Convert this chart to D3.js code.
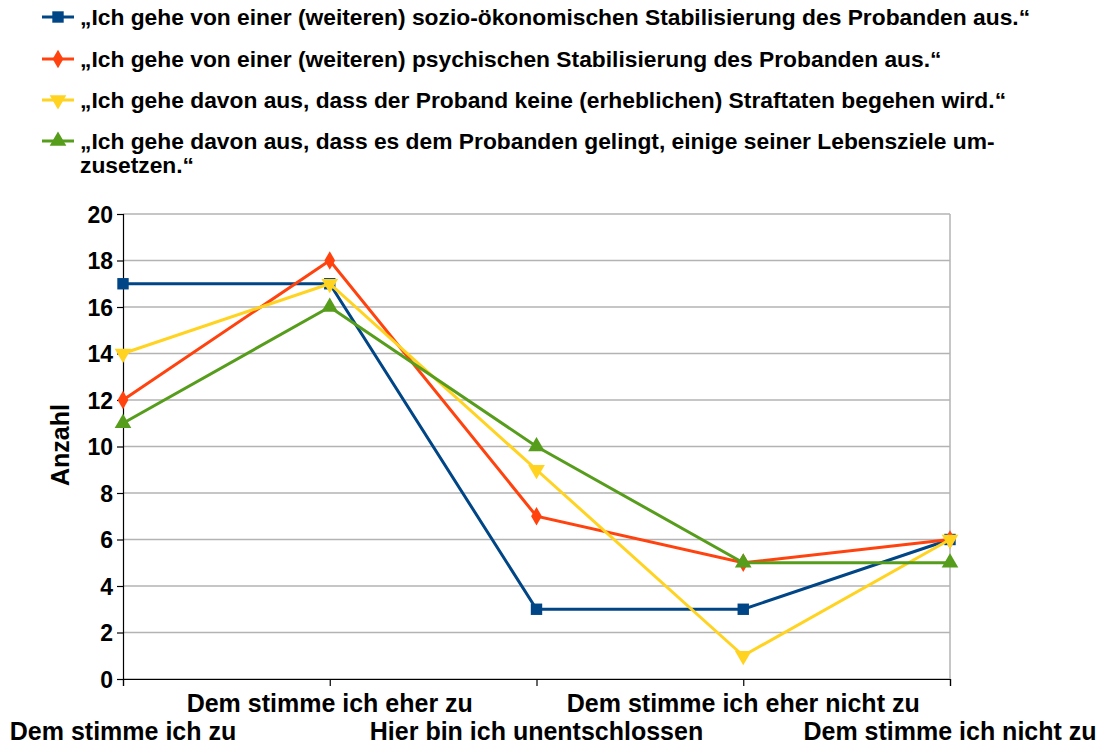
<!DOCTYPE html>
<html><head><meta charset="utf-8">
<script src="https://cdn.jsdelivr.net/npm/d3@7"></script>
<style>body{margin:0;background:#fff}svg{display:block}text{font-family:"Liberation Sans",Arial,sans-serif;font-weight:bold;fill:#000}</style>
</head><body>
<script>
const categories = ["Dem stimme ich zu","Dem stimme ich eher zu","Hier bin ich unentschlossen","Dem stimme ich eher nicht zu","Dem stimme ich nicht zu"];
const seriesNames = [
 ["„Ich gehe von einer (weiteren) sozio-ökonomischen Stabilisierung des Probanden aus.“"],
 ["„Ich gehe von einer (weiteren) psychischen Stabilisierung des Probanden aus.“"],
 ["„Ich gehe davon aus, dass der Proband keine (erheblichen) Straftaten begehen wird.“"],
 ["„Ich gehe davon aus, dass es dem Probanden gelingt, einige seiner Lebensziele um-","zusetzen.“"]
];
const sozio = [17,17,3,3,6];
const psych = [12,18,7,5,6];
const straf = [14,17,9,1,6];
const leben = [11,16,10,5,5];
const yTicks = [0,2,4,6,8,10,12,14,16,18,20];
const colors = ["#004586","#ff420e","#ffd320","#579d1c"];
const shapes = [d3.symbolSquare, d3.symbolDiamond, "down", d3.symbolTriangle];
const series = [sozio, psych, straf, leben];

const W=1106,H=744;
const svg=d3.select("body").append("svg").attr("width",W).attr("height",H);
const L=123,R=950,T=214,B=679;
const x=d3.scalePoint().domain(categories).range([L,R]);
const y=d3.scaleLinear().domain([0,20]).range([B,T]);

// grid
svg.append("g").selectAll("line").data(yTicks).join("line")
 .attr("x1",L).attr("x2",R).attr("y1",d=>y(d)).attr("y2",d=>y(d))
 .attr("stroke","#b3b3b3").attr("stroke-width",1.5);
svg.append("line").attr("x1",R).attr("x2",R).attr("y1",T).attr("y2",B).attr("stroke","#b3b3b3").attr("stroke-width",1.5);

// y axis
const ya=svg.append("g").attr("transform",`translate(${L},0)`).call(d3.axisLeft(y).tickValues(yTicks).tickSize(6).tickPadding(4));
ya.select(".domain").attr("stroke","#000").attr("stroke-width",1.2);
ya.selectAll(".tick line").attr("stroke","#000").attr("stroke-width",1.2);
ya.selectAll("text").style("font-size","23px").style("font-family","Liberation Sans, Arial").style("font-weight","bold").attr("fill","#000").attr("dy","0.35em");

// x axis
const xa=svg.append("g").attr("transform",`translate(0,${B})`).call(d3.axisBottom(x).tickSize(7).tickFormat(""));
xa.select(".domain").attr("stroke","#000").attr("stroke-width",1.2);
xa.selectAll(".tick line").attr("stroke","#000").attr("stroke-width",1.2);
svg.append("g").selectAll("text").data(categories).join("text")
 .attr("x",d=>x(d)).attr("y",(d,i)=>i%2===0?740:712)
 .attr("text-anchor","middle").style("font-size","25px").text(d=>d);

// axis title
svg.append("text").attr("transform","translate(69,445) rotate(-90)").attr("text-anchor","middle").style("font-size","25px").text("Anzahl");

// lines
const line=d3.line().x((d,i)=>x(categories[i])).y(d=>y(d));
function marker(g,shape,color,cx,cy){
  if(shape==="down"){
    g.append("path").attr("d",d3.symbol(d3.symbolTriangle).size(120)()).attr("transform",`translate(${cx},${cy}) rotate(180)`).attr("fill",color);
  } else {
    const sz = shape===d3.symbolSquare?130:(shape===d3.symbolDiamond?100:120);
    g.append("path").attr("d",d3.symbol(shape).size(sz)()).attr("transform",`translate(${cx},${cy})`).attr("fill",color);
  }
}
series.forEach((s,k)=>{
  const g=svg.append("g");
  g.append("path").datum(s).attr("d",line).attr("fill","none").attr("stroke",colors[k]).attr("stroke-width",3);
  s.forEach((v,i)=>marker(g,shapes[k],colors[k],x(categories[i]),y(v)));
});

// legend
const legY=[17,59,100,141];
seriesNames.forEach((lines,k)=>{
  const g=svg.append("g");
  g.append("line").attr("x1",42).attr("x2",74).attr("y1",legY[k]).attr("y2",legY[k]).attr("stroke",colors[k]).attr("stroke-width",3);
  marker(g,shapes[k],colors[k],58,legY[k]);
  lines.forEach((t,j)=>{
    g.append("text").attr("x",80).attr("y",legY[k]+8+j*24).style("font-size","22.8px").text(t);
  });
});
</script>
</body></html>
